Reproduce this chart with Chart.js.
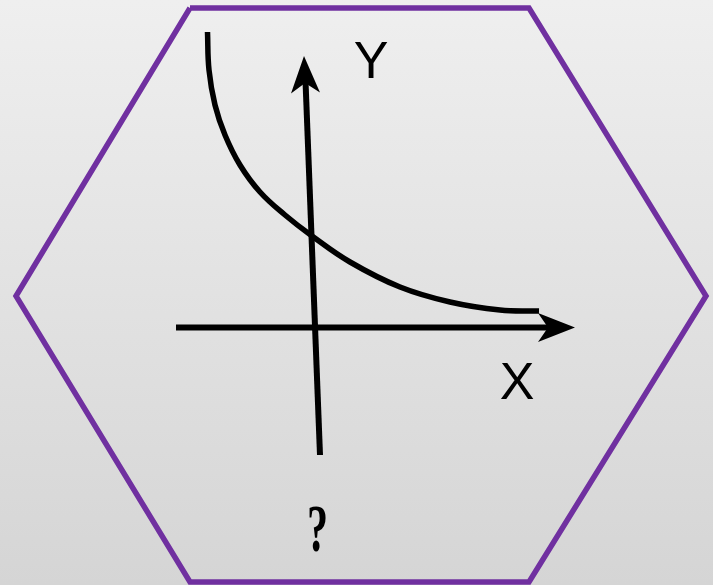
<!DOCTYPE html>
<html lang="en">
<head>
    <meta charset="UTF-8">
    <title>Decay curve icon</title>
    <script src="https://cdn.jsdelivr.net/npm/chart.js"></script>
    <style>
        body { margin: 0; }
        .wrap { width: 713px; height: 585px; background: linear-gradient(#efefef, #d5d5d5); }
    </style>
</head>
<body>
    <div class="wrap">
        <canvas id="iconChart" width="713" height="585"></canvas>
    </div>

    <script>
        // Data in drawing units (1 unit = 10px, y grows upward)
        const hexX = [19.0, 52.9, 70.6, 52.9, 19.0, 1.6, 19.0];
        const hexY = [57.7, 57.7, 28.9, 0.3, 0.3, 28.9, 57.7];

        const curveX = [20.75, 20.9, 21.5, 22.5, 24.0, 26.0, 28.5, 31.2, 35.0, 40.0, 45.0, 50.0, 53.9];
        const curveY = [55.3, 51.5, 48.0, 45.0, 42.0, 39.3, 37.0, 34.9, 32.3, 29.8, 28.3, 27.5, 27.4];

        const xAxisX = [17.6, 55.0];
        const xAxisY = [25.75, 25.75];
        const xArrowTip = [57.5, 25.75];

        const yAxisX = [32.0, 30.55];
        const yAxisY = [13.0, 50.4];
        const yArrowTip = [30.4, 52.9];

        const labels = [
            { text: 'Y', x: 37.1, y: 52.1, font: '400 52px "Liberation Sans"' },
            { text: 'X', x: 51.7, y: 20.0, font: '400 52px "Liberation Sans"' },
            { text: '?', x: 31.75, y: 5.2, font: '700 68px "Liberation Serif"', squeeze: 0.62 }
        ];

        const toPts = (xs, ys) => xs.map((x, i) => ({ x: x, y: ys[i] }));

        // arrow heads and text labels, placed through the chart scales
        const decorPlugin = {
            id: 'decor',
            afterDatasetsDraw(chart) {
                const ctx = chart.ctx;
                const sx = chart.scales.x, sy = chart.scales.y;
                const heads = [
                    { from: [xAxisX[0], xAxisY[0]], tip: xArrowTip },
                    { from: [yAxisX[0], yAxisY[0]], tip: yArrowTip }
                ];
                ctx.save();
                ctx.fillStyle = '#000';
                heads.forEach(h => {
                    const tx = sx.getPixelForValue(h.tip[0]), ty = sy.getPixelForValue(h.tip[1]);
                    const fx = sx.getPixelForValue(h.from[0]), fy = sy.getPixelForValue(h.from[1]);
                    let dx = tx - fx, dy = ty - fy;
                    const len = Math.hypot(dx, dy);
                    dx /= len; dy /= len;
                    const nx = -dy, ny = dx;
                    const L = 37, W = 14.5, N = 27;
                    ctx.beginPath();
                    ctx.moveTo(tx, ty);
                    ctx.lineTo(tx - dx * L + nx * W, ty - dy * L + ny * W);
                    ctx.lineTo(tx - dx * N, ty - dy * N);
                    ctx.lineTo(tx - dx * L - nx * W, ty - dy * L - ny * W);
                    ctx.closePath();
                    ctx.fill();
                });
                ctx.textAlign = 'center';
                ctx.textBaseline = 'middle';
                labels.forEach(l => {
                    const px = sx.getPixelForValue(l.x), py = sy.getPixelForValue(l.y);
                    ctx.save();
                    ctx.font = l.font;
                    ctx.translate(px, py);
                    if (l.squeeze) ctx.scale(l.squeeze, 1);
                    ctx.fillText(l.text, 0, 0);
                    ctx.restore();
                });
                ctx.restore();
            }
        };

        const ctx = document.getElementById('iconChart').getContext('2d');
        new Chart(ctx, {
            type: 'scatter',
            data: {
                datasets: [
                    {
                        data: toPts(hexX, hexY),
                        showLine: true,
                        borderColor: '#7030a0',
                        borderWidth: 5.5,
                        borderJoinStyle: 'miter',
                        pointRadius: 0,
                        clip: false
                    },
                    {
                        data: toPts(curveX, curveY),
                        showLine: true,
                        borderColor: '#000',
                        borderWidth: 5.5,
                        tension: 0.4,
                        pointRadius: 0
                    },
                    {
                        data: toPts(xAxisX, xAxisY),
                        showLine: true,
                        borderColor: '#000',
                        borderWidth: 6,
                        pointRadius: 0
                    },
                    {
                        data: toPts(yAxisX, yAxisY),
                        showLine: true,
                        borderColor: '#000',
                        borderWidth: 6,
                        pointRadius: 0
                    }
                ]
            },
            options: {
                responsive: false,
                animation: false,
                layout: { padding: 0 },
                scales: {
                    x: { type: 'linear', min: 0, max: 71.3, display: false },
                    y: { type: 'linear', min: 0, max: 58.5, display: false }
                },
                plugins: {
                    legend: { display: false },
                    tooltip: { enabled: false }
                }
            },
            plugins: [decorPlugin]
        });
    </script>
</body>
</html>
